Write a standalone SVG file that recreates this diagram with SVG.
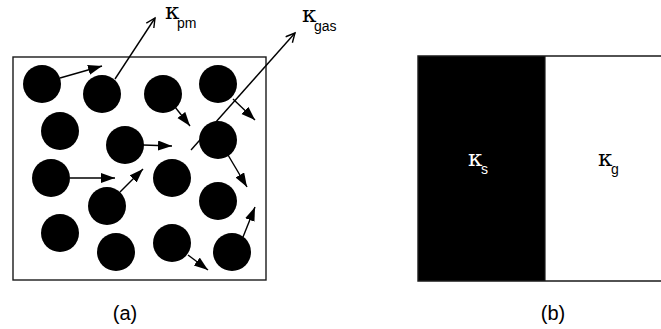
<svg xmlns="http://www.w3.org/2000/svg" width="661" height="329" viewBox="0 0 661 329">
<style>
.box{fill:none;stroke:#1a1a1a;stroke-width:1.4}
.p{fill:#000}
.a{stroke:#000;stroke-width:1.4;fill:none}
.k{font-family:"DejaVu Serif",serif;font-size:23px}
.sub{font-family:"Liberation Sans",Arial,sans-serif;font-size:14px}
.cap{font-family:"Liberation Sans",Arial,sans-serif;font-size:20px;text-anchor:middle}
</style>
<defs>
<marker id="fh" markerUnits="userSpaceOnUse" markerWidth="16" markerHeight="12" refX="14" refY="5" orient="auto">
<path d="M0,0 L14,5 L0,10 z" fill="#000"/>
</marker>
<marker id="oh" markerUnits="userSpaceOnUse" markerWidth="12" markerHeight="12" refX="10" refY="5" orient="auto">
<path d="M1,0.5 L10,5 L1,9.5" fill="none" stroke="#000" stroke-width="1.4"/>
</marker>
</defs>
<g id="panel-a">
<rect class="box" x="13" y="57" width="253" height="223"/>
<g id="particles">
<circle class="p" cx="42" cy="84" r="19"/>
<circle class="p" cx="102" cy="94" r="19"/>
<circle class="p" cx="163" cy="94" r="19"/>
<circle class="p" cx="218" cy="84" r="19"/>
<circle class="p" cx="60" cy="131" r="19"/>
<circle class="p" cx="125" cy="145" r="19"/>
<circle class="p" cx="218" cy="140" r="19"/>
<circle class="p" cx="51" cy="178" r="19"/>
<circle class="p" cx="172" cy="178" r="19"/>
<circle class="p" cx="107" cy="206" r="19"/>
<circle class="p" cx="218" cy="201" r="19"/>
<circle class="p" cx="60" cy="233" r="19"/>
<circle class="p" cx="116" cy="252" r="19"/>
<circle class="p" cx="172" cy="243" r="19"/>
<circle class="p" cx="232" cy="252" r="19"/>
</g>
<g id="connectors">
<line class="a" x1="60" y1="78" x2="102" y2="66" marker-end="url(#fh)"/>
<line class="a" x1="175" y1="107" x2="190" y2="126" marker-end="url(#fh)"/>
<line class="a" x1="233" y1="99" x2="255" y2="120" marker-end="url(#fh)"/>
<line class="a" x1="143" y1="145" x2="172" y2="146" marker-end="url(#fh)"/>
<line class="a" x1="228" y1="155" x2="247" y2="187" marker-end="url(#fh)"/>
<line class="a" x1="70" y1="178" x2="115" y2="178" marker-end="url(#fh)"/>
<line class="a" x1="120" y1="192" x2="143" y2="169" marker-end="url(#fh)"/>
<line class="a" x1="188" y1="255" x2="208" y2="270" marker-end="url(#fh)"/>
<line class="a" x1="243" y1="237" x2="255" y2="207" marker-end="url(#fh)"/>
<line class="a" x1="115" y1="79" x2="155" y2="18" marker-end="url(#oh)"/>
<line class="a" x1="191" y1="150" x2="295" y2="33" marker-end="url(#oh)"/>
</g>
<g id="label-kpm"><text class="k" x="165" y="19">κ</text><text class="sub" x="177" y="28">pm</text></g>
<g id="label-kgas"><text class="k" x="302" y="22">κ</text><text class="sub" x="314" y="31">gas</text></g>
<text class="cap" x="125" y="320">(a)</text>
</g>
<g id="panel-b">
<rect x="418" y="56" width="127" height="225" fill="#000"/>
<polyline class="box" points="661,56 418,56 418,281 661,281"/>
<line x1="545" y1="56" x2="545" y2="281" stroke="#1a1a1a" stroke-width="1.2"/>
<g id="label-ks"><text class="k" x="468" y="166" fill="#fff">κ</text><text class="sub" x="481" y="174" fill="#fff">s</text></g>
<g id="label-kg"><text class="k" x="598" y="166">κ</text><text class="sub" x="611" y="174">g</text></g>
<text class="cap" x="553" y="320">(b)</text>
</g>
</svg>
